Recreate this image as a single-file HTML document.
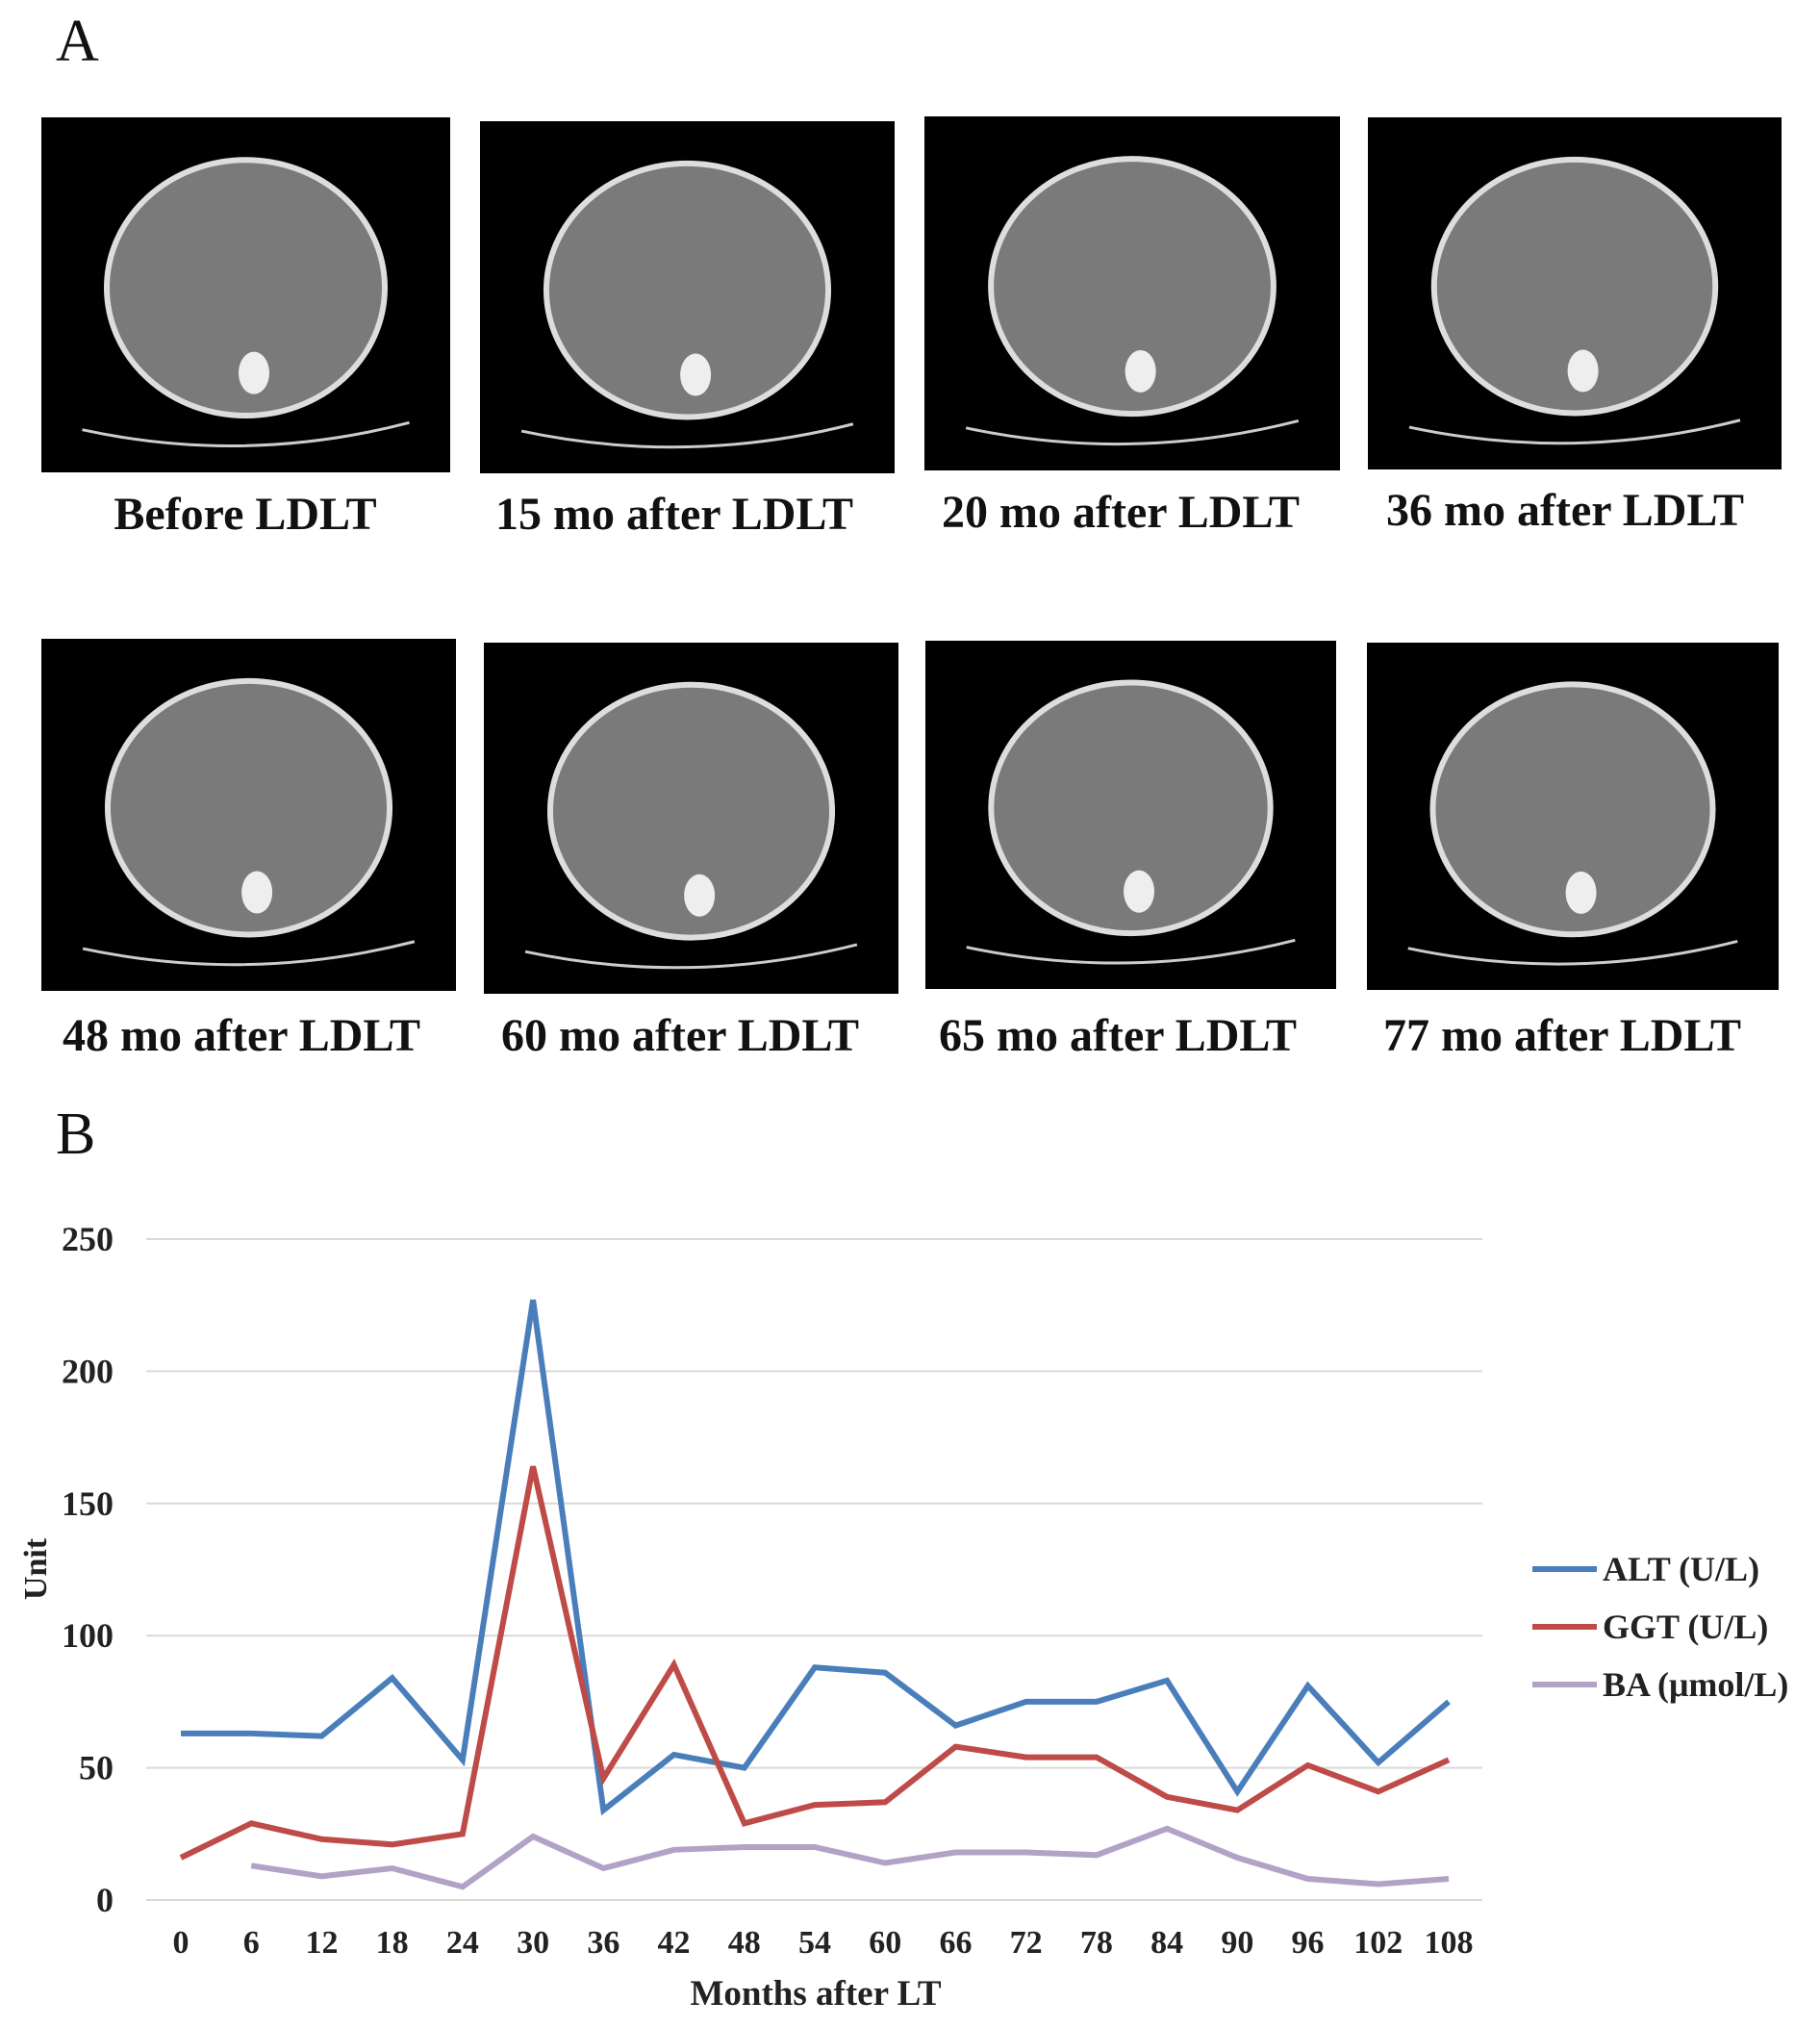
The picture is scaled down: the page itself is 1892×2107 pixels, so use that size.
<!DOCTYPE html>
<html><head><meta charset="utf-8"><style>
body{margin:0;background:#fff;}
#root{position:relative;width:1892px;height:2107px;overflow:hidden;background:#fff;font-family:"Liberation Serif",serif;}
.lbl{position:absolute;font-weight:bold;font-size:48px;transform:translateX(-50%);white-space:nowrap;color:#111;}
.panel{position:absolute;font-size:62px;color:#111;}
.ct{position:absolute;background:#000;}
</style></head><body>
<div id="root">
<div class="panel" style="left:58px;top:8px">A</div>
<div class="panel" style="left:58px;top:1144px">B</div>
<div id="cts"></div>
<svg id="chart" width="1892" height="2107" style="position:absolute;left:0;top:0"></svg>
</div>
<script>
const months=[0,6,12,18,24,30,36,42,48,54,60,66,72,78,84,90,96,102,108];
const alt=[63,63,62,84,53,227,34,55,50,88,86,66,75,75,83,41,81,52,75];
const ggt=[16,29,23,21,25,164,46,89,29,36,37,58,54,54,39,34,51,41,53];
const ba=[null,13,9,12,5,24,12,19,20,20,14,18,18,17,27,16,8,6,8];
const yTicks=[0,50,100,150,200,250];
const seriesNames=["ALT (U/L)","GGT (U/L)","BA (μmol/L)"];
const ctLabels=["Before LDLT","15 mo after LDLT","20 mo after LDLT","36 mo after LDLT","48 mo after LDLT","60 mo after LDLT","65 mo after LDLT","77 mo after LDLT"];

const boxes=[[43,122,425,369],[499,126,431,366],[961,121,432,368],[1422,122,430,366],[43,664,431,366],[503,668,431,365],[962,666,427,362],[1421,668,428,361]];
const lblPos=[[255,507],[701,507],[1165,505],[1627,503],[251,1049],[707,1049],[1162,1049],[1624,1049]];
const cts=document.getElementById('cts');
boxes.forEach((b,i)=>{
  const d=document.createElement('div');d.className='ct';
  d.style.left=b[0]+'px';d.style.top=b[1]+'px';d.style.width=b[2]+'px';d.style.height=b[3]+'px';
  
  
  d.innerHTML='<svg width="'+b[2]+'" height="'+b[3]+'"><ellipse cx="'+b[2]/2+'" cy="'+b[3]*0.48+'" rx="'+b[2]*0.34+'" ry="'+b[3]*0.36+'" fill="#7a7a7a" stroke="#ddd" stroke-width="6"/><ellipse cx="'+b[2]*0.52+'" cy="'+b[3]*0.72+'" rx="16" ry="22" fill="#eee"/><path d="M'+b[2]*0.1+' '+b[3]*0.88+' Q'+b[2]/2+' '+b[3]*0.98+' '+b[2]*0.9+' '+b[3]*0.86+'" stroke="#ccc" stroke-width="3" fill="none"/></svg>';
  cts.appendChild(d);
  const l=document.createElement('div');l.className='lbl';
  l.style.left=lblPos[i][0]+'px';l.style.top=lblPos[i][1]+'px';l.textContent=ctLabels[i];
  
  
  cts.appendChild(l);
});

const NS='http://www.w3.org/2000/svg';
const svg=document.getElementById('chart');
const x0=188,x1=1506,yBase=1975,yTop=1288,gx0=152,gx1=1541;
const xs=i=>x0+(x1-x0)*i/(months.length-1);
const ys=v=>yBase-(yBase-yTop)*v/250;
function mk(t,a){const e=document.createElementNS(NS,t);for(const k in a)e.setAttribute(k,a[k]);svg.appendChild(e);return e;}
yTicks.forEach(v=>{
  const g=mk('line',{x1:gx0,x2:gx1,y1:ys(v),y2:ys(v),stroke:'#d9d9d9','stroke-width':2});
  
  
  const t=mk('text',{x:118,y:ys(v)+12,'text-anchor':'end','font-size':36,'font-weight':'bold','font-family':'Liberation Serif, serif',fill:'#222'});
  t.textContent=v;
  
  
});
months.forEach((m,i)=>{
  const t=mk('text',{x:xs(i),y:2030,'text-anchor':'middle','font-size':34,'font-weight':'bold','font-family':'Liberation Serif, serif',fill:'#222'});
  t.textContent=m;
  
  
});
const xt=mk('text',{x:848,y:2084,'text-anchor':'middle','font-size':37,'font-weight':'bold','font-family':'Liberation Serif, serif',fill:'#222'});
xt.textContent='Months after LT';


const yt=mk('text',{x:0,y:0,'text-anchor':'middle','font-size':34,'font-weight':'bold','font-family':'Liberation Serif, serif',fill:'#222',transform:'translate(48,1631) rotate(-90)'});
yt.textContent='Unit';


const colors=['#4a7ebb','#be4b48','#b3a2c7'];
const names=['alt','ggt','ba'];
[alt,ggt,ba].forEach((s,k)=>{
  let d='';s.forEach((v,i)=>{if(v===null)return;d+=(d?'L':'M')+xs(i).toFixed(1)+' '+ys(v).toFixed(1);});
  const p=mk('path',{d:d,fill:'none',stroke:colors[k],'stroke-width':6,'stroke-linejoin':'miter'});
  
  
  const ly=1631+k*60;
  const ll=mk('line',{x1:1593,x2:1660,y1:ly,y2:ly,stroke:colors[k],'stroke-width':6});
  
  
  const lt=mk('text',{x:1666,y:ly+12,'font-size':36,'font-weight':'bold','font-family':'Liberation Serif, serif',fill:'#222'});
  lt.textContent=seriesNames[k];
  
  
});
</script>
</body></html>
